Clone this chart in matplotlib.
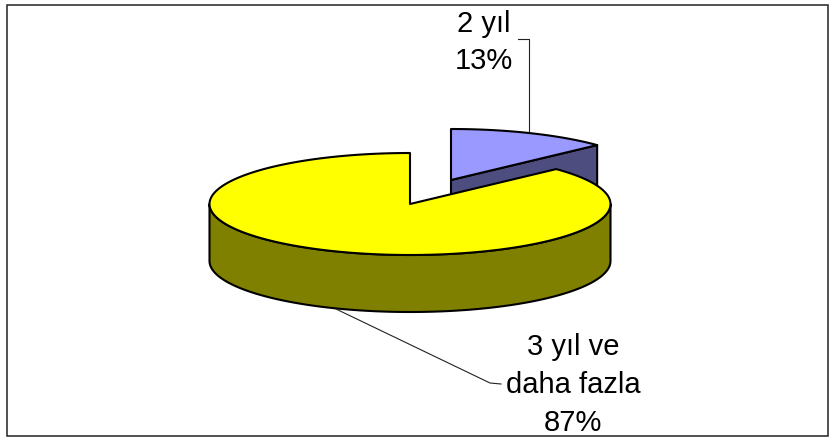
import numpy as np
import matplotlib
matplotlib.use('Agg')
import matplotlib.pyplot as plt
from matplotlib.patches import Polygon, Rectangle

labels = ['2 y\u0131l', '3 y\u0131l ve\ndaha fazla']
shares = [13, 87]
colors_top = ['#9999FF', '#FFFF00']
colors_side = ['#4D4D80', '#808000']

plt.rcParams['font.family'] = ['Liberation Sans', 'DejaVu Sans']

# pie geometry in picture pixels
CX, CY = 410, 205
RX, RY = 200.5, 51
DEPTH = 57
EXPLODE = (41, -24)


def rim(deg, dx=0, dy=0):
    # angle runs clockwise from 12 o'clock, like the pie in the picture
    t = np.radians(deg)
    return np.column_stack((CX + dx + RX * np.sin(t), CY + dy - RY * np.cos(t)))


fig = plt.figure(figsize=(8.33, 4.39), dpi=100)
ax = fig.add_axes([0, 0, 1, 1])
ax.set_xlim(0, 833)
ax.set_ylim(439, 0)
ax.axis('off')

ax.add_patch(Rectangle((7.5, 6), 821, 431.5, fc='white', ec='#222222', lw=1.1))

cut = 360 * shares[0] / sum(shares)

# exploded slice first, the big one sits in front of it
dx, dy = EXPLODE
arc = rim(np.linspace(0, cut, 40), dx, dy)
apex = np.array([[CX + dx, CY + dy]])
end = arc[-1:]
wall = np.vstack((apex, end, end + [0, DEPTH], apex + [0, DEPTH]))
ax.add_patch(Polygon(wall, fc=colors_side[0], ec='black', lw=1.5, joinstyle='round'))
ax.add_patch(Polygon(np.vstack((apex, arc)), fc=colors_top[0], ec='black', lw=1.5, joinstyle='round'))

front = rim(np.linspace(90, 270, 120))
wall = np.vstack((front, (front + [0, DEPTH])[::-1]))
ax.add_patch(Polygon(wall, fc=colors_side[1], ec='black', lw=1.5, joinstyle='round'))
arc = rim(np.linspace(cut, 360, 200))
ax.add_patch(Polygon(np.vstack(([[CX, CY]], arc)), fc=colors_top[1], ec='black', lw=1.5, joinstyle='round'))

# leader lines
ax.plot([518, 529, 529], [40, 40, 132], color='#222222', lw=0.8)
ax.plot([336, 490, 501], [310, 384, 385], color='#222222', lw=0.8)

ax.text(484, 42.5, '%s\n%d%%' % (labels[0], shares[0]), ha='center', va='center',
        fontsize=21, linespacing=1.45, color='black')
ax.text(573, 385, '%s\n%d%%' % (labels[1], shares[1]), ha='center', va='center',
        fontsize=21, linespacing=1.45, color='black')

fig.savefig('out.png', dpi=100)
